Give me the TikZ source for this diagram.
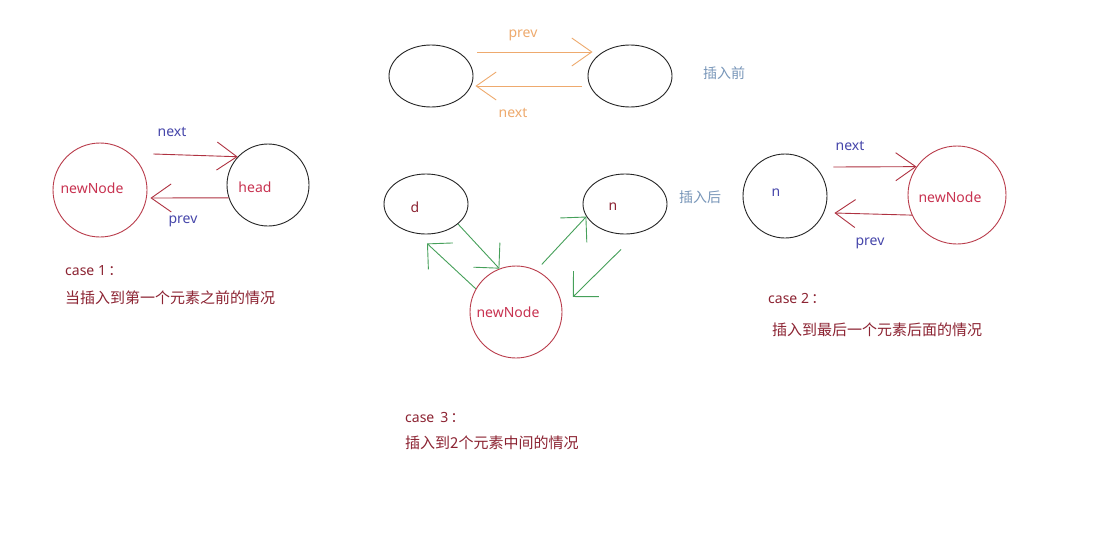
\documentclass[tikz,border=0pt]{standalone}
\usepackage{fontspec}
\setmainfont{Noto Sans}
\newfontfamily\cjk{Noto Sans CJK SC}
\usepackage{tikz}
\usetikzlibrary{arrows.meta, positioning, shapes.geometric}
\definecolor{ringred}{RGB}{185,60,75}
\definecolor{arrred}{RGB}{175,50,65}
\definecolor{txtred}{RGB}{200,50,80}
\definecolor{capred}{RGB}{140,35,50}
\definecolor{lblblue}{RGB}{70,70,170}
\definecolor{orng}{RGB}{238,170,110}
\definecolor{grn}{RGB}{70,160,90}
\definecolor{hintblue}{RGB}{120,150,185}
\tikzset{
  ring/.style   ={circle, draw=black!85, line width=.9pt, inner sep=0pt},
  redring/.style={ring, draw=ringred},
  oval/.style   ={ellipse, draw=black!85, line width=.9pt, inner sep=0pt, minimum width=84pt, minimum height=62pt},
  txt/.style    ={font=\fontsize{14}{16}\selectfont, inner sep=0pt},
  capt/.style   ={txt, anchor=west, text=capred},
  zh/.style     ={capt, font=\fontsize{15}{17}\selectfont\cjk},
  lbl/.style    ={txt, text=lblblue},
  hint/.style   ={txt, anchor=west, text=hintblue},
  fl/.style     ={-{Straight Barb[length=20pt,width=28pt]}, line width=.9pt, draw=arrred},
  ofl/.style    ={fl, draw=orng},
  gfl/.style    ={-{Straight Barb[length=18pt,width=36pt]}, line width=.9pt, draw=grn},
}
\begin{document}
\begin{tikzpicture}[x=1pt, y=-1pt]
  \useasboundingbox[fill=white] (0,0) rectangle (1103,544);
  % before insertion
  \node[oval] (topL) at (431,76) {};
  \node[oval] (topR) at (630,76) {};
  \node[hint] (before) at (703,73) {\cjk 插入前};
  \draw[ofl] ([shift={(4,-24)}]topL.east) -- ([shift={(5,-24)}]topR.west);
  \draw[ofl] ([shift={(-6,10)}]topR.west) -- ([shift={(2,10)}]topL.east);
  \node[txt, text=orng] (prevT) at (523,35) {prev};
  \node[txt, text=orng] (nextT) at (513,113) {next};

  % case 1
  \node[redring, minimum size=94pt, label={[txt, text=txtred, shift={(-8,-2)}]center:newNode}] (newA) at (100,190) {};
  \node[ring, minimum size=82pt, label={[txt, text=txtred, shift={(-13,2)}]center:head}] (headA) at (268,185) {};
  \draw[fl] ([shift={(6,-36)}]newA.east) -- (headA.137);
  \draw[fl] (headA.198) -- ([shift={(3,8)}]newA.east);
  \node[lbl] (nextA) at (172,132) {next};
  \node[lbl] (prevA) at (183,221) {prev};
  \node[capt] (capA) at (65,271) {case 1\,\cjk ：};
  \node[zh] (capA2) at (65,298) {当插入到第一个元素之前的情况};

  % case 3
  \node[oval, minimum height=60pt, label={[txt, text=capred, shift={(-11,3)}]center:d}] (dE) at (426,204) {};
  \node[oval, minimum height=60pt, label={[txt, text=capred, shift={(-12,3)}]center:n}] (nE) at (625,204) {};
  \node[hint] (after) at (679,197) {\cjk 插入后};
  \node[redring, minimum size=92pt, label={[txt, text=txtred, shift={(-8,0)}]center:newNode}] (newC) at (516,312) {};
  \draw[gfl] (dE.-32) -- (newC.111);
  \draw[gfl] (newC.150) -- ([shift={(1,9)}]dE.south);
  \draw[gfl, shorten <=8pt] (newC.64) -- (nE.198);
  \draw[gfl] ([shift={(-4,15)}]nE.south) -- ([shift={(12,-3)}]newC.15);
  \node[capt] (capC) at (405,417) {case \,3\,\cjk ：};
  \node[zh] (capC2) at (405,443) {插入到2个元素中间的情况};

  % case 2
  \node[ring, minimum size=84pt, label={[txt, text=lblblue, shift={(-9,-3)}]center:n}] (nB) at (785,196) {};
  \node[redring, minimum size=98pt, label={[txt, text=txtred, shift={(-7,2)}]center:newNode}] (newB) at (957,195) {};
  \draw[fl] ([shift={(6,-29)}]nB.east) -- (newB.145);
  \draw[fl] (newB.204) -- ([shift={(7,17)}]nB.east);
  \node[lbl] (nextB) at (850,146) {next};
  \node[lbl] (prevB) at (870,243) {prev};
  \node[capt] (capB) at (768,298) {case 2\,\cjk ：};
  \node[zh] (capB2) at (772,330) {插入到最后一个元素后面的情况};
\end{tikzpicture}
\end{document}
